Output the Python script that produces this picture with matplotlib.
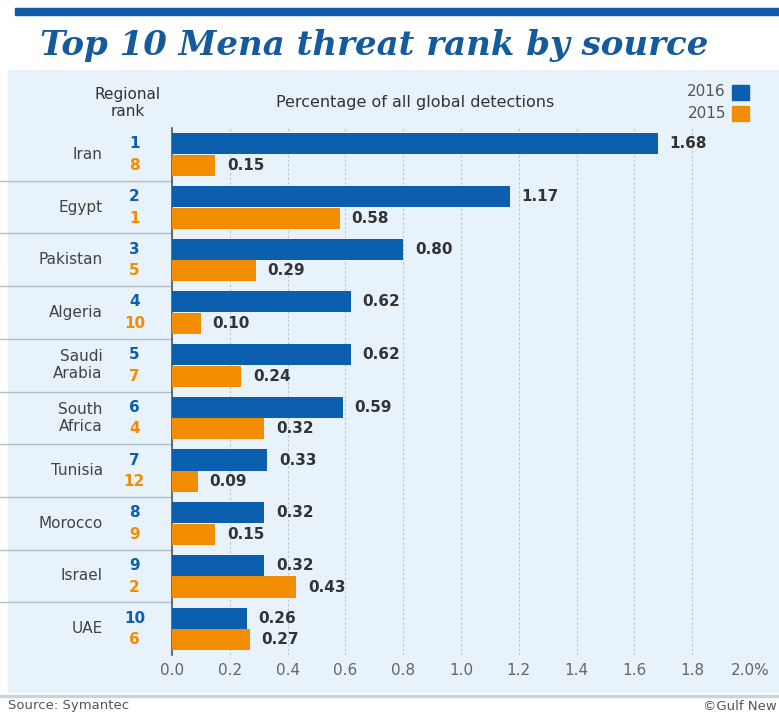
import matplotlib.pyplot as plt
from matplotlib.patches import Rectangle

# data
countries = ['Iran', 'Egypt', 'Pakistan', 'Algeria', 'Saudi\nArabia',
             'South\nAfrica', 'Tunisia', 'Morocco', 'Israel', 'UAE']
rank_2016 = [1, 2, 3, 4, 5, 6, 7, 8, 9, 10]
rank_2015 = [8, 1, 5, 10, 7, 4, 12, 9, 2, 6]
pct_2016 = [1.68, 1.17, 0.80, 0.62, 0.62, 0.59, 0.33, 0.32, 0.32, 0.26]
pct_2015 = [0.15, 0.58, 0.29, 0.10, 0.24, 0.32, 0.09, 0.15, 0.43, 0.27]
xticks = [0.0, 0.2, 0.4, 0.6, 0.8, 1.0, 1.2, 1.4, 1.6, 1.8, 2.0]
xticklabels = ['0.0', '0.2', '0.4', '0.6', '0.8', '1.0', '1.2', '1.4', '1.6', '1.8', '2.0%']

BLUE = '#0b5fae'
ORANGE = '#f28c00'
PANEL = '#e7f2fa'
TEXT = '#333333'

W, H = 779, 715
fig = plt.figure(figsize=(W / 100, H / 100), dpi=100)
fig.patch.set_facecolor('white')

# top stripe, panel, footer line (kept behind the axes)
fig.patches.append(Rectangle((15 / W, 1 - 15 / H), 1 - 15 / W, 7 / H,
                             transform=fig.transFigure, color='#0e5ca8', zorder=-10))
fig.patches.append(Rectangle((8 / W, 1 - 692 / H), 1 - 8 / W, (692 - 70) / H,
                             transform=fig.transFigure, color=PANEL, zorder=-10))
fig.patches.append(Rectangle((0, 1 - 697 / H), 1, 2 / H,
                             transform=fig.transFigure, color='#c9d3da', zorder=-10))

fig.text(40 / W, 1 - 45 / H, 'Top 10 Mena threat rank by source', fontsize=24.5,
         family='DejaVu Serif', weight='bold', style='italic', color='#155a9c',
         va='center', ha='left')

ax = fig.add_axes([172 / W, 1 - 655 / H, (750 - 172) / W, (655 - 128) / H])
ax.set_facecolor('none')
n = len(countries)
yb = [i + 0.30 for i in range(n)]
yo = [i + 0.71 for i in range(n)]
ax.barh(yb, pct_2016, height=0.40, color=BLUE, zorder=3)
ax.barh(yo, pct_2015, height=0.40, color=ORANGE, zorder=3)
ax.set_xlim(0, 2.0)
ax.set_ylim(n, 0)

for i in range(n):
    ax.text(pct_2016[i] + 0.04, yb[i], f'{pct_2016[i]:.2f}', va='center', ha='left',
            fontsize=11, weight='bold', color=TEXT)
    ax.text(pct_2015[i] + 0.04, yo[i], f'{pct_2015[i]:.2f}', va='center', ha='left',
            fontsize=11, weight='bold', color=TEXT)
    ax.text(-0.13, yb[i], str(rank_2016[i]), va='center', ha='center',
            fontsize=11, weight='bold', color=BLUE)
    ax.text(-0.13, yo[i], str(rank_2015[i]), va='center', ha='center',
            fontsize=11, weight='bold', color=ORANGE)
    ax.text(-0.24, i + 0.5, countries[i], va='center', ha='right',
            fontsize=11, color='#444444', linespacing=1.2)
    if i < n - 1:
        ax.plot([-0.6, 0], [i + 1, i + 1], color='#aebfcc', lw=1,
                clip_on=False, zorder=1)

ax.set_xticks(xticks)
ax.set_xticklabels(xticklabels, fontsize=11, color='#666666')
ax.tick_params(axis='x', length=0, pad=6)
ax.set_yticks([])
ax.grid(axis='x', color='#b8c4cc', ls=(0, (2, 2)), lw=0.8, zorder=0)
for s in ['top', 'right', 'bottom']:
    ax.spines[s].set_visible(False)
ax.spines['left'].set_color('#555555')
ax.spines['left'].set_linewidth(1.2)

# header texts
fig.text(128 / W, 1 - 103 / H, 'Regional\nrank', fontsize=11, ha='center',
         va='center', color='#333333', linespacing=1.1)
fig.text(415 / W, 1 - 103 / H, 'Percentage of all global detections', fontsize=11.5,
         ha='center', va='center', color='#333333')
fig.text(726 / W, 1 - 92 / H, '2016', fontsize=11, ha='right', va='center', color='#555555')
fig.text(726 / W, 1 - 113 / H, '2015', fontsize=11, ha='right', va='center', color='#555555')
fig.patches.append(Rectangle((732 / W, 1 - 100 / H), 17 / W, 15 / H,
                             transform=fig.transFigure, color=BLUE))
fig.patches.append(Rectangle((732 / W, 1 - 121 / H), 17 / W, 15 / H,
                             transform=fig.transFigure, color=ORANGE))

fig.text(8 / W, 1 - 706 / H, 'Source: Symantec', fontsize=9.5, ha='left', va='center',
         color='#555555')
fig.text(703 / W, 1 - 706 / H, '©Gulf New', fontsize=9.5, ha='left', va='center',
         color='#555555')

fig.savefig('out.png', dpi=100)
